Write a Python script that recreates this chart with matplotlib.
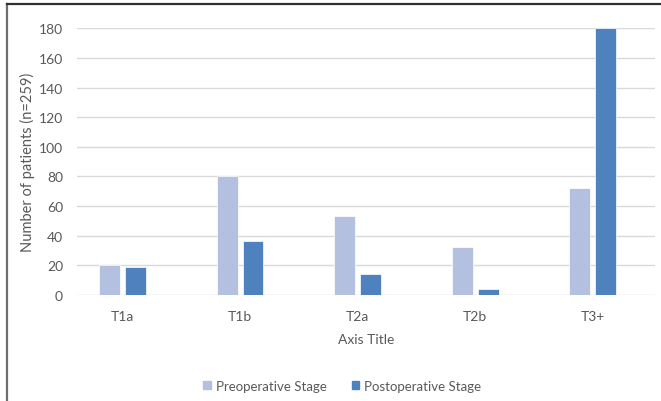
import numpy as np
import matplotlib.pyplot as plt
from matplotlib.lines import Line2D
from matplotlib.patches import Patch

plt.rcParams['font.family'] = ['Lato', 'DejaVu Sans']

stages = ["T1a", "T1b", "T2a", "T2b", "T3+"]
preop = [20, 80, 53, 32, 72]
postop = [19, 36, 14, 4, 180]
yticks = [0, 20, 40, 60, 80, 100, 120, 140, 160, 180]

pre_col = "#B4C0DF"
post_col = "#4F81BF"
txt_col = "#595959"

fig = plt.figure(figsize=(6.61, 4.02), dpi=100)
ax = fig.add_axes([0.1165, 0.2644, 0.8745, 0.6627])

x = np.arange(len(stages))
w = 0.178
ax.bar(x - 0.11, preop, w, color=pre_col, edgecolor="white", linewidth=0.5, zorder=3)
ax.bar(x + 0.11, postop, w, color=post_col, edgecolor="white", linewidth=0.5, zorder=3)

ax.set_xlim(-0.387, 4.53)
ax.set_ylim(0, 180)
ax.set_yticks(yticks)
ax.set_xticks(x)
ax.set_xticklabels(stages)
ax.grid(axis="y", color="#D9D9D9", linewidth=1, zorder=0)
for s in ax.spines.values():
    s.set_visible(False)
ax.tick_params(length=0, labelsize=10, colors=txt_col, pad=10)
ax.tick_params(axis="x", pad=11)

ax.set_ylabel("Number of patients (n=259)", fontsize=10.5, color=txt_col, va="center")
ax.yaxis.set_label_coords(-0.085, 0.5)
ax.set_xlabel("Axis Title", fontsize=10, color=txt_col, labelpad=8)

handles = [Patch(color=pre_col), Patch(color=post_col)]
fig.legend(handles, ["Preoperative Stage", "Postoperative Stage"],
           loc="center", bbox_to_anchor=(0.518, 0.037), ncol=2, frameon=False,
           fontsize=9.5, labelcolor=txt_col, handlelength=0.55, handleheight=0.55,
           handletextpad=0.4, columnspacing=1.9)

# frame lines along the left and top edges
fig.add_artist(Line2D([0.0106, 0.0106], [0, 0.988], color="#6E6E6E", linewidth=1.6))
fig.add_artist(Line2D([0.0106, 1.0], [0.988, 0.988], color="#303030", linewidth=1.6))

fig.savefig("out.png", dpi=100)
